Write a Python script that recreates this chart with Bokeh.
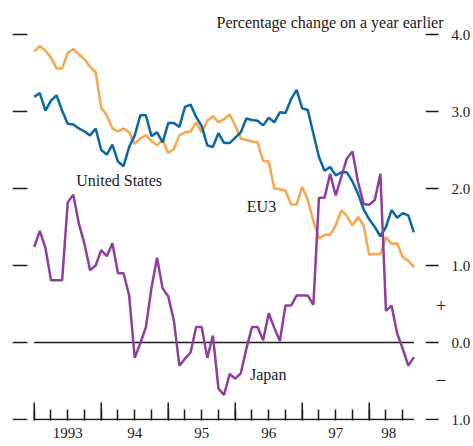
from bokeh.plotting import figure
from bokeh.models import LinearAxis, FixedTicker, Range1d, ColumnDataSource
from bokeh.core.properties import value
from bokeh.embed import file_html
from bokeh.resources import INLINE

# months since January 1993
months = list(range(69))

us = [3.19, 3.24, 3.01, 3.14, 3.21, 3.01, 2.84, 2.83, 2.78, 2.74,
      2.69, 2.78, 2.50, 2.44, 2.57, 2.35, 2.29, 2.54, 2.69, 2.95,
      2.95, 2.68, 2.73, 2.60, 2.85, 2.85, 2.80, 3.06, 3.09, 2.93,
      2.81, 2.56, 2.54, 2.72, 2.59, 2.59, 2.66, 2.73, 2.91, 2.89,
      2.88, 2.82, 2.92, 2.86, 2.99, 2.98, 3.16, 3.28, 3.04, 3.02,
      2.71, 2.41, 2.23, 2.28, 2.17, 2.21, 2.21, 2.09, 1.93, 1.73,
      1.60, 1.50, 1.38, 1.50, 1.72, 1.62, 1.68, 1.65, 1.43]

eu3 = [3.78, 3.85, 3.79, 3.70, 3.56, 3.56, 3.76, 3.81, 3.74, 3.68,
       3.58, 3.51, 3.05, 2.95, 2.78, 2.74, 2.78, 2.73, 2.58, 2.65,
       2.69, 2.62, 2.56, 2.63, 2.46, 2.51, 2.69, 2.73, 2.74, 2.86,
       2.73, 2.88, 2.94, 2.86, 2.90, 2.96, 2.82, 2.65, 2.63, 2.61,
       2.60, 2.36, 2.35, 2.00, 1.99, 1.97, 1.80, 1.79, 2.02, 1.85,
       1.58, 1.35, 1.40, 1.40, 1.52, 1.72, 1.64, 1.52, 1.63, 1.52,
       1.14, 1.15, 1.15, 1.37, 1.28, 1.29, 1.11, 1.06, 0.98]

japan = [1.24, 1.45, 1.23, 0.81, 0.81, 0.81, 1.82, 1.92, 1.54, 1.28,
         0.94, 1.00, 1.20, 1.12, 1.29, 0.90, 0.90, 0.61, -0.20, -0.01,
         0.20, 0.71, 1.10, 0.70, 0.60, 0.29, -0.30, -0.21, -0.13, 0.20,
         0.20, -0.20, 0.09, -0.60, -0.68, -0.41, -0.47, -0.40, -0.08, 0.20,
         0.20, 0.03, 0.38, 0.19, 0.02, 0.48, 0.48, 0.61, 0.61, 0.61,
         0.49, 1.88, 1.88, 2.19, 1.91, 2.15, 2.39, 2.48, 2.08, 1.80,
         1.79, 1.85, 2.19, 0.41, 0.48, 0.12, -0.08, -0.30, -0.19]

year_starts = [0, 12, 24, 36, 48, 60]
quarter_ticks = [0, 3, 6, 9, 12, 15, 18, 21, 24, 27, 30, 33, 36, 39, 42, 45,
                 48, 51, 54, 57, 60, 63, 66]
year_label_pos = [6, 18, 30, 42, 54, 63.5]
year_labels = ["1993", "94", "95", "96", "97", "98"]

y_ticks = [4, 3, 2, 1, 0, -1]
y_tick_labels = ["4.0", "3.0", "2.0", "1.0", "0.0", "1.0"]

sign_y = [0.48, -0.49]
sign_labels = ["+", "\u2212"]

series_names = ["United States", "EU3", "Japan"]
name_x = [15.2, 40.7, 41.9]
name_y = [2.10, 1.77, -0.42]

title_text = "Percentage change on a year earlier"

# ---- styling / geometry (pixels -> data units) ----
FONT = "Liberation Serif"
INK = "#1a1a1a"
C_US = "#0b67a3"
C_EU = "#f7a64e"
C_JP = "#8e3f9c"
PX_X = 5.65   # pixels per month
PX_Y = 77.0   # pixels per percentage point

x0 = months[0] - 22 / PX_X
x1 = months[-1] + 32 / PX_X
y0 = y_ticks[-1] - 1 / PX_Y
y1 = y_ticks[0] + 4 / PX_Y

p = figure(width=473, height=446, output_backend="svg", toolbar_location=None,
           x_axis_type=None, y_axis_type=None,
           x_range=Range1d(x0, x1), y_range=Range1d(y0, y1),
           min_border_left=12, min_border_right=23, min_border_top=30,
           min_border_bottom=26)
p.outline_line_color = None
p.background_fill_color = "white"
p.border_fill_color = "white"

p.title.text = title_text
p.title.align = "right"
p.title.offset = 2
p.title.standoff = 0
p.title.text_font = FONT
p.title.text_font_size = "16px"
p.title.text_font_style = "normal"
p.title.text_color = INK

right = LinearAxis(ticker=FixedTicker(ticks=y_ticks),
                   major_label_overrides=dict(zip(y_ticks, y_tick_labels)),
                   major_tick_line_color=None, minor_tick_line_color=None,
                   axis_line_color=None, major_label_standoff=0,
                   major_label_text_font=FONT, major_label_text_font_size="15px",
                   major_label_text_color=INK)
p.add_layout(right, "right")

xl = LinearAxis(ticker=FixedTicker(ticks=year_label_pos, minor_ticks=quarter_ticks),
                major_label_overrides=dict(zip(year_label_pos, year_labels)),
                major_tick_line_color=None,
                minor_tick_in=11, minor_tick_out=0, minor_tick_line_width=1.5,
                minor_tick_line_color=INK,
                axis_line_color=None, major_label_standoff=1,
                major_label_text_font=FONT, major_label_text_font_size="15px",
                major_label_text_color=INK)
p.add_layout(xl, "below")

# y tick dashes on both sides
n = len(y_ticks)
left_a, left_b = months[0] - 22 / PX_X, months[0] - 7 / PX_X
right_a, right_b = months[-1] + 12 / PX_X, months[-1] + 25 / PX_X
p.segment(x0=[left_a] * n, y0=y_ticks, x1=[left_b] * n, y1=y_ticks,
          line_color=INK, line_width=1.5)
p.segment(x0=[right_a] * n, y0=y_ticks, x1=[right_b] * n, y1=y_ticks,
          line_color=INK, line_width=1.5)

# long year ticks
m = len(year_starts)
p.segment(x0=year_starts, y0=[y0] * m, x1=year_starts,
          y1=[y_ticks[-1] + 17 / PX_Y] * m, line_color=INK, line_width=1.5)

# base line and zero line across the data span
p.segment(x0=[months[0], months[0]], y0=[y_ticks[-1], 0],
          x1=[months[-1], months[-1]], y1=[y_ticks[-1], 0],
          line_color=INK, line_width=1.5)

src = ColumnDataSource(dict(m=months, us=us, eu3=eu3, japan=japan))
p.line("m", "eu3", source=src, line_color=C_EU, line_width=2.5)
p.line("m", "us", source=src, line_color=C_US, line_width=2.5)
p.line("m", "japan", source=src, line_color=C_JP, line_width=2.5)

p.text(x=name_x, y=name_y, text=series_names, text_align="center",
       text_baseline="alphabetic", text_font=value(FONT), text_font_size="16px",
       text_color=INK)

sign_x = months[-1] + 27.5 / PX_X
p.text(x=[sign_x] * len(sign_y), y=sign_y, text=sign_labels, text_align="center",
       text_baseline="middle", text_font=value(FONT), text_font_size="19px",
       text_color=INK)

open("out.html", "w").write(file_html(p, INLINE))
